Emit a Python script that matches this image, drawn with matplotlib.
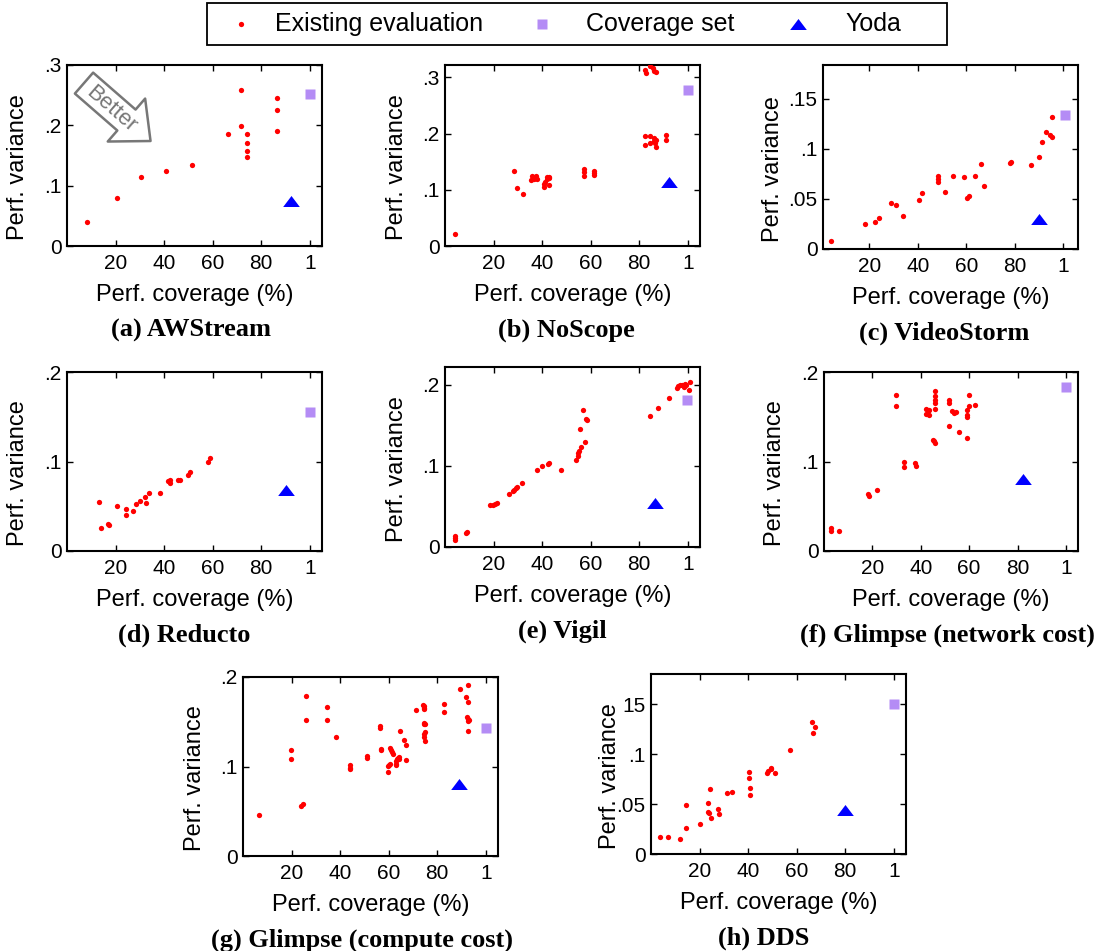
import numpy as np
import matplotlib.pyplot as plt
from matplotlib.lines import Line2D
from matplotlib.patches import FancyArrowPatch, Rectangle

W, H = 1104, 951
SANS = "Liberation Sans"
SERIF = "Liberation Serif"

# ---- data: (perf. coverage %, perf. variance) per system ----
aw_x = [8.4, 20.4, 30.3, 40.8, 51.4, 66.2, 71.6, 71.6, 74.2, 74.2, 74.2, 74.2, 86.4, 86.4, 86.4]
aw_y = [0.039, 0.079, 0.114, 0.124, 0.135, 0.185, 0.259, 0.199, 0.186, 0.170, 0.157, 0.148,
        0.246, 0.226, 0.191]
aw_cov = (100.1, 0.252)
aw_yoda = (92.3, 0.075)

ns_x = [4.1, 28.6, 29.7, 32.3, 35.4, 35.7, 36.5, 37.4, 37.8, 40.6, 40.9, 41.3, 42.0, 42.7,
        43.0, 41.9, 42.9, 57.2, 57.2, 57.2, 61.2, 61.2, 61.5, 82.4, 82.6, 84.6, 85.7, 86.2,
        87.0, 82.4, 84.3, 82.4, 84.3, 85.9, 86.1, 86.6, 87.0, 87.0, 91.0, 91.0]
ns_y = [0.021, 0.134, 0.103, 0.092, 0.117, 0.124, 0.119, 0.125, 0.119, 0.105, 0.110, 0.114,
        0.119, 0.123, 0.109, 0.122, 0.121, 0.137, 0.132, 0.125, 0.134, 0.130, 0.127, 0.3125,
        0.308, 0.320, 0.317, 0.312, 0.309, 0.196, 0.196, 0.180, 0.184, 0.192, 0.187, 0.183,
        0.177, 0.189, 0.198, 0.189]
ns_cov = (100.0, 0.278)
ns_yoda = (92.2, 0.113)

vs_x = [4.2, 18.4, 22.6, 24.0, 28.8, 31.2, 33.8, 40.5, 41.6, 48.4, 48.4, 48.4, 51.4, 54.7,
        59.0, 60.4, 61.2, 63.4, 66.2, 67.3, 77.8, 78.6, 86.6, 90.1, 91.0, 92.7, 94.4, 95.1, 95.1]
vs_y = [0.008, 0.0253, 0.0266, 0.0306, 0.0462, 0.0439, 0.0326, 0.0486, 0.0556, 0.0725, 0.0702,
        0.0672, 0.0572, 0.0729, 0.0719, 0.0506, 0.0526, 0.0725, 0.0848, 0.0625, 0.0862, 0.0872,
        0.0842, 0.0918, 0.1068, 0.117, 0.114, 0.112, 0.132]
vs_cov = (100.8, 0.134)
vs_yoda = (89.9, 0.030)

rd_x = [13.2, 14.1, 17.0, 17.4, 20.4, 24.4, 24.4, 27.0, 28.6, 30.0, 32.2, 32.7, 33.7, 38.1,
        41.5, 42.3, 42.3, 45.6, 46.4, 49.7, 50.5, 57.9, 59.0]
rd_y = [0.0543, 0.0257, 0.0301, 0.029, 0.0502, 0.0465, 0.0401, 0.0446, 0.0524, 0.0561, 0.0602,
        0.0539, 0.065, 0.065, 0.078, 0.0796, 0.0762, 0.0788, 0.0788, 0.0851, 0.0885, 0.0996,
        0.104]
rd_cov = (100.1, 0.155)
rd_yoda = (90.1, 0.0677)

vg_x = [4.2, 4.2, 4.2, 8.7, 9.1, 18.5, 19.6, 20.7, 21.5, 26.3, 27.8, 28.5, 29.2, 29.7, 31.5,
        37.8, 39.8, 42.5, 42.7, 47.7, 53.8, 54.6, 54.9, 55.1, 55.4, 56.2, 56.7, 57.5, 58.0,
        58.4, 84.6, 87.6, 92.4, 95.5, 95.9, 96.9, 97.7, 98.3, 98.8, 99.4, 100.6, 101.0]
vg_y = [0.0111, 0.0131, 0.009, 0.0172, 0.018, 0.0513, 0.0522, 0.0534, 0.0542, 0.0657, 0.069,
        0.0706, 0.0731, 0.0743, 0.0788, 0.0953, 0.0994, 0.1027, 0.104, 0.0945, 0.1076, 0.1125,
        0.1158, 0.1183, 0.1454, 0.1236, 0.169, 0.129, 0.158, 0.157, 0.161, 0.1717, 0.184,
        0.196, 0.1988, 0.2004, 0.1996, 0.197, 0.2016, 0.2004, 0.1934, 0.204]
vg_cov = (99.6, 0.181)
vg_yoda = (86.6, 0.054)

gn_x = [3.0, 3.0, 6.3, 18.1, 18.5, 21.8, 29.8, 29.8, 33.2, 33.2, 37.6, 38.1, 42.3, 42.3, 42.8,
        43.4, 43.4, 44.9, 45.6, 46.0, 45.7, 45.7, 45.7, 45.7, 45.7, 51.7, 51.7, 51.7, 53.1,
        53.6, 54.5, 56.0, 59.3, 59.3, 59.3, 59.3, 60.1, 60.1, 62.6]
gn_y = [0.0253, 0.0227, 0.0223, 0.0632, 0.062, 0.0677, 0.1747, 0.1617, 0.0996, 0.0933, 0.0978,
        0.0955, 0.159, 0.1535, 0.1565, 0.152, 0.157, 0.1245, 0.1227, 0.1208, 0.1788, 0.1729,
        0.1691, 0.1654, 0.159, 0.1684, 0.1654, 0.140, 0.1565, 0.154, 0.155, 0.1327, 0.1264,
        0.157, 0.1517, 0.1498, 0.1747, 0.1617, 0.1636]
gn_cov = (100.0, 0.183)
gn_yoda = (82.4, 0.081)

gc_x = [6.7, 19.7, 19.7, 23.7, 24.7, 25.8, 25.8, 34.7, 34.7, 38.4, 43.9, 43.9, 43.9, 51.0,
        51.0, 56.3, 56.3, 57.0, 57.0, 59.9, 59.8, 60.2, 60.6, 60.7, 61.0, 61.4, 61.7, 62.8,
        63.1, 62.8, 63.3, 63.9, 64.2, 64.4, 64.7, 66.4, 67.1, 67.1, 71.3, 74.1, 74.4, 74.6,
        74.4, 74.4, 74.6, 74.9, 74.6, 74.6, 74.9, 75.0, 82.6, 82.6, 89.2, 91.7, 92.5, 92.5,
        92.2, 92.5, 92.9, 92.5, 92.5]
gc_y = [0.0462, 0.1181, 0.108, 0.0555, 0.0585, 0.1788, 0.1516, 0.1661, 0.1516, 0.1326, 0.1013,
        0.0987, 0.0968, 0.1114, 0.1099, 0.1453, 0.1434, 0.1196, 0.1181, 0.0942, 0.1002, 0.1013,
        0.1024, 0.1207, 0.1181, 0.1162, 0.1143, 0.1013, 0.1028, 0.1058, 0.1084, 0.1095, 0.108,
        0.1102, 0.1393, 0.1292, 0.1244, 0.1073, 0.1631, 0.1691, 0.1672, 0.1657, 0.1639,
        0.1471, 0.1486, 0.1471, 0.1367, 0.133, 0.1285, 0.1385, 0.1702, 0.1609, 0.1862, 0.1777,
        0.1907, 0.1721, 0.1553, 0.1534, 0.1516, 0.1508, 0.1397]
gc_cov = (100.0, 0.143)
gc_yoda = (88.9, 0.081)

dd_x = [3.8, 7.2, 11.8, 14.5, 14.5, 20.0, 23.6, 23.6, 23.9, 24.1, 24.9, 27.7, 28.0, 31.3, 33.4,
        40.2, 40.2, 40.9, 40.9, 47.9, 48.2, 49.3, 49.6, 50.9, 57.1, 66.1, 66.5, 67.5]
dd_y = [0.0173, 0.0173, 0.0153, 0.026, 0.0487, 0.030, 0.0507, 0.042, 0.0407, 0.0653, 0.036,
        0.045, 0.0403, 0.061, 0.0623, 0.0817, 0.0757, 0.0657, 0.0593, 0.0807, 0.0833, 0.085,
        0.086, 0.0813, 0.1037, 0.132, 0.1207, 0.1273]
dd_cov = (100.2, 0.150)
dd_yoda = (79.9, 0.0443)

captions = ["(a) AWStream", "(b) NoScope", "(c) VideoStorm", "(d) Reducto", "(e) Vigil",
            "(f) Glimpse (network cost)", "(g) Glimpse (compute cost)", "(h) DDS"]
legend_labels = ["Existing evaluation", "Coverage set", "Yoda"]
x_ticks = [20, 40, 60, 80, 100]
x_ticklabels = ["20", "40", "60", "80", "1"]
y_ticks_01 = [0, 0.1, 0.2, 0.3]
y_labels_01 = ["0", ".1", ".2", ".3"]
y_ticks_005 = [0, 0.05, 0.1, 0.15]
y_labels_c = ["0", ".05", ".1", ".15"]
y_labels_h = ["0", ".05", ".1", "15"]

series = [(aw_x, aw_y, aw_cov, aw_yoda), (ns_x, ns_y, ns_cov, ns_yoda),
          (vs_x, vs_y, vs_cov, vs_yoda), (rd_x, rd_y, rd_cov, rd_yoda),
          (vg_x, vg_y, vg_cov, vg_yoda), (gn_x, gn_y, gn_cov, gn_yoda),
          (gc_x, gc_y, gc_cov, gc_yoda), (dd_x, dd_y, dd_cov, dd_yoda)]

# ---- layout (pixels): axes box l, t, r, b ; caption centre x ; ylabel offset ----
boxes = [(67, 65, 322, 246), (445, 65, 700, 246), (823, 65, 1078, 249),
         (67, 372, 322, 551), (445, 367, 700, 547), (824, 372, 1078, 551),
         (243, 677, 498, 856), (651, 674, 906, 854)]
cap_x = [191, 566, 944, 184, 562, 947, 362, 764]
ylab_dx = [-49, -48, -50, -49, -48, -49, -48, -41]
xlims = [(0, 105), (0, 105), (1, 106), (0, 105), (0, 105), (0, 105), (0, 105), (0, 105)]
ylims = [0.3, 0.322, 0.184, 0.2, 0.222, 0.2, 0.2, 0.18]
yticks = [(y_ticks_01, y_labels_01), (y_ticks_01, y_labels_01), (y_ticks_005, y_labels_c),
          (y_ticks_01[:3], y_labels_01[:3]), (y_ticks_01[:3], y_labels_01[:3]),
          (y_ticks_01[:3], y_labels_01[:3]), (y_ticks_01[:3], y_labels_01[:3]),
          (y_ticks_005, y_labels_h)]

RED = "#ff0000"
PURPLE = "#b48cf5"
BLUE = "#0000ff"
TRI = [(-1, -0.66), (1, -0.66), (0, 0.66)]   # flat gnuplot-style triangle
DOT_MS, SQ_MS, TRI_MS = 3.8, 6.8, 12

fig = plt.figure(figsize=(W / 100, H / 100), dpi=100)

for i, ((x, y, cov, yoda), (l, t, r, b)) in enumerate(zip(series, boxes)):
    ax = fig.add_axes([l / W, 1 - b / H, (r - l) / W, (b - t) / H])
    ax.plot(x, y, ls="none", marker="o", ms=DOT_MS, color=RED, mec="none", zorder=3)
    ax.plot([cov[0]], [cov[1]], ls="none", marker="s", ms=SQ_MS, color=PURPLE, mec="none",
            zorder=4, clip_on=False)
    ax.plot([yoda[0]], [yoda[1]], ls="none", marker=TRI, ms=TRI_MS, color=BLUE, mec="none",
            zorder=4)
    ax.set_xlim(*xlims[i])
    ax.set_ylim(0, ylims[i])
    ax.set_xticks(x_ticks)
    ax.set_xticklabels(x_ticklabels)
    ax.set_yticks(yticks[i][0])
    ax.set_yticklabels(yticks[i][1])
    ax.tick_params(direction="in", top=True, right=True, length=4, width=1,
                   labelsize=15, colors="black")
    ax.tick_params(axis="x", pad=5.5)
    ax.tick_params(axis="y", pad=4)
    for lab in ax.get_xticklabels() + ax.get_yticklabels():
        lab.set_fontfamily(SANS)
    for sp in ax.spines.values():
        sp.set_linewidth(1.5)

    w_px = r - l
    ax.text(ylab_dx[i] / w_px, 0.435, "Perf. variance", rotation=90, ha="center",
            va="center", transform=ax.transAxes, fontsize=17, family=SANS)
    fig.text((l + r) / 2 / W, 1 - (b + 49) / H, "Perf. coverage (%)", ha="center",
             va="center", fontsize=17, family=SANS)
    fig.text(cap_x[i] / W, 1 - (b + 84) / H, captions[i], ha="center", va="center",
             fontsize=19, family=SERIF, fontweight="bold")

    if i == 0:
        # hollow "Better" arrow pointing toward high coverage / low variance
        arr = FancyArrowPatch((7.0, 0.270), (34.4, 0.174),
                              arrowstyle="simple,head_length=23,head_width=41,tail_width=20",
                              mutation_scale=1, shrinkA=0, shrinkB=0,
                              fc="white", ec="#777777", lw=1.8, zorder=2)
        ax.add_patch(arr)
        ax.text(18.0, 0.227, "Better", rotation=-41, ha="center", va="center",
                color="#777777", fontsize=16, family=SANS, zorder=3)

# legend box across the top, laid out in figure pixels
fig.add_artist(Rectangle((207 / W, 1 - 45 / H), 740 / W, 42 / H, transform=fig.transFigure,
                         fc="white", ec="black", lw=1.3))
leg_marks = [dict(marker="o", ms=DOT_MS, color=RED), dict(marker="s", ms=SQ_MS, color=PURPLE),
             dict(marker=TRI, ms=TRI_MS, color=BLUE)]
mark_x = [241, 542, 798]
text_x = [275, 586, 845]
for style, mx, tx, lab in zip(leg_marks, mark_x, text_x, legend_labels):
    fig.add_artist(Line2D([mx / W], [1 - 24 / H], ls="none", mec="none",
                          transform=fig.transFigure, **style))
    fig.text(tx / W, 1 - 24 / H, lab, ha="left", va="center", fontsize=18, family=SANS)

fig.savefig("out.png", dpi=100)
